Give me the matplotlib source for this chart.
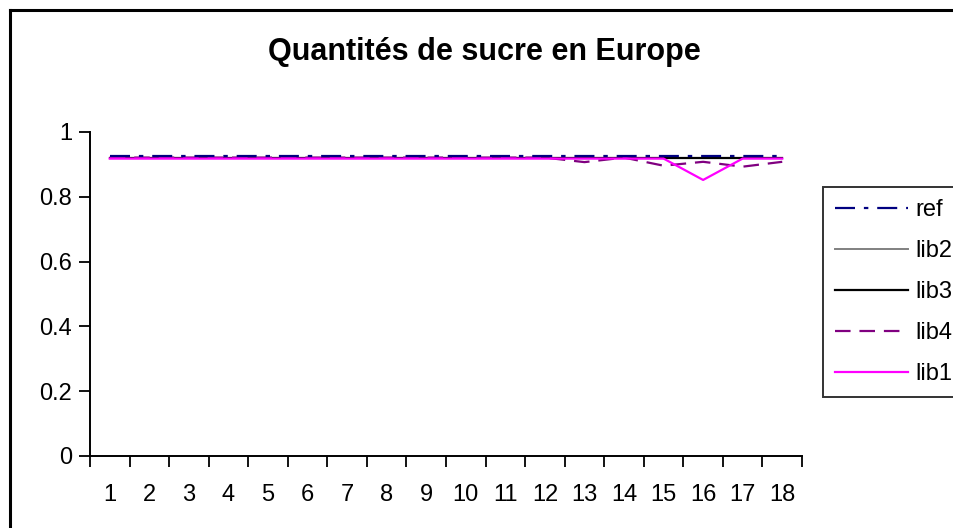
import matplotlib
matplotlib.use("Agg")
import matplotlib.pyplot as plt
from matplotlib.lines import Line2D

plt.rcParams['font.family'] = ['Liberation Sans', 'DejaVu Sans']

categories = list(range(1, 19))
ref  = [0.925] * 18
lib2 = [0.921] * 18
lib3 = [0.921] * 18
lib4 = [0.921, 0.921, 0.921, 0.921, 0.921, 0.921, 0.921, 0.921, 0.921,
        0.921, 0.921, 0.921, 0.907, 0.921, 0.896, 0.908, 0.893, 0.908]
lib1 = [0.918] * 15 + [0.852, 0.918, 0.918]

y_ticks = [0, 0.2, 0.4, 0.6, 0.8, 1]
y_labels = ["0", "0.2", "0.4", "0.6", "0.8", "1"]

fig = plt.figure(figsize=(9.54, 5.28), dpi=100)

# outer chart frame (top and left edges; the rest lies outside the image)
fx, fy = 10 / 954, 1 - 10 / 528
fig.add_artist(Line2D([fx, 1.01], [fy, fy], transform=fig.transFigure,
                      color='black', lw=2.2, solid_capstyle='projecting'))
fig.add_artist(Line2D([fx, fx], [fy, -0.01], transform=fig.transFigure,
                      color='black', lw=2.2, solid_capstyle='projecting'))

ax = fig.add_axes([90 / 954, (528 - 456) / 528, (802 - 90) / 954, (456 - 132) / 528])

ax.plot(categories, lib2, color='#808080', lw=1.4, label='lib2')
ax.plot(categories, lib3, color='black', lw=1.6, label='lib3')
ax.plot(categories, lib4, color='#800080', lw=1.6, dashes=(7, 4), label='lib4')
ax.plot(categories, ref, color='#000080', lw=1.6, dashes=(9, 4, 2, 4), label='ref')
ax.plot(categories, lib1, color='#FF00FF', lw=1.6, label='lib1')

ax.set_xlim(0.5, 18.5)
ax.set_ylim(0, 1)
ax.set_yticks(y_ticks)
ax.set_yticklabels(y_labels)
ax.set_xticks(categories)
ax.set_xticklabels([str(c) for c in categories])
ax.set_xticks([c + 0.5 for c in range(0, 19)], minor=True)
ax.tick_params(axis='x', which='major', length=0, pad=20, labelsize=17)
ax.tick_params(axis='x', which='minor', length=8, width=1.3, direction='out')
ax.tick_params(axis='y', length=8, width=1.3, direction='out', pad=5, labelsize=17)
for s in ('top', 'right'):
    ax.spines[s].set_visible(False)
for s in ('left', 'bottom'):
    ax.spines[s].set_linewidth(1.4)

fig.text(484 / 954, 1 - 52 / 528, "Quantités de sucre en Europe",
         ha='center', va='center', fontsize=22, fontweight='bold')

handles, labels = ax.get_legend_handles_labels()
order = ['ref', 'lib2', 'lib3', 'lib4', 'lib1']
hmap = dict(zip(labels, handles))
leg = fig.legend([hmap[k] for k in order], order,
                 loc='upper left', bbox_to_anchor=(823 / 954, 1 - 187 / 528),
                 frameon=True, fancybox=False, fontsize=17, handlelength=3.1,
                 handletextpad=0.3, labelspacing=0.81, borderpad=0.5,
                 borderaxespad=0)
leg.get_frame().set_edgecolor('black')
leg.get_frame().set_linewidth(1.4)

fig.savefig('out.png', dpi=100)
